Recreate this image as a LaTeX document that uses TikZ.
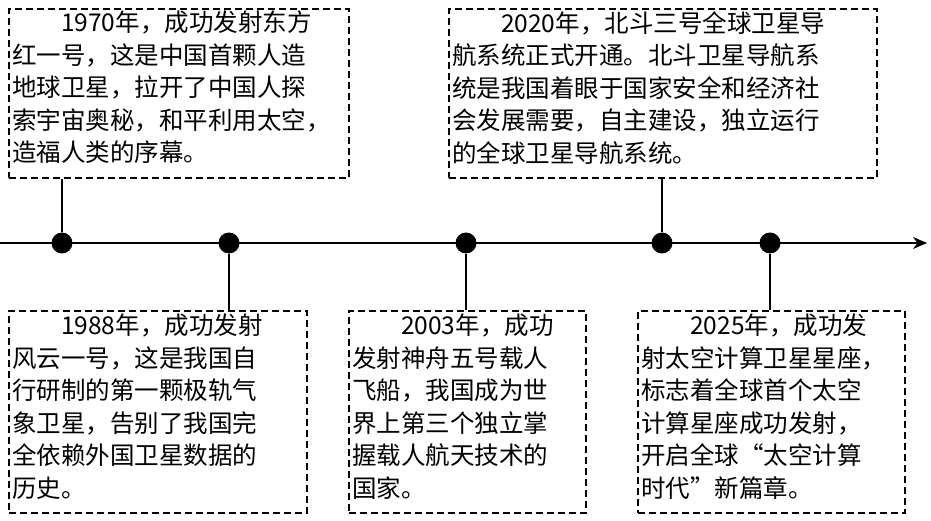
\documentclass[tikz,border=0pt]{standalone}
\usepackage{fontspec}
\setmainfont{Noto Sans CJK SC}
\usetikzlibrary{arrows.meta}
\begin{document}
\begin{tikzpicture}[x=1pt,y=-1pt,
 box/.style={draw,line width=2pt,dash pattern=on 7pt off 4pt,anchor=north west,inner sep=0},
 txt/.style={anchor=north west,align=left,inner sep=0,font=\fontsize{24.5}{32.5}\selectfont},
 dot/.style={circle,fill=black,minimum size=21pt,inner sep=0},
 link/.style={line width=2pt}]
\useasboundingbox (0,0) rectangle (931,521);
\node[box,minimum width=340pt,minimum height=169pt] (b1) at (8,8) {};
\node[box,minimum width=428pt,minimum height=169pt] (b2) at (448,8) {};
\node[box,minimum width=298pt,minimum height=202pt] (b3) at (8,310) {};
\node[box,minimum width=237pt,minimum height=202pt] (b4) at (348,310) {};
\node[box,minimum width=267pt,minimum height=202pt] (b5) at (637,310) {};
\node[txt] (t1) at (12,11) {\hspace{2em}1970年，成功发射东方\\红一号，这是中国首颗人造\\地球卫星，拉开了中国人探\\索宇宙奥秘，和平利用太空，\\造福人类的序幕。};
\node[txt] (t2) at (452,11) {\hspace{2em}2020年，北斗三号全球卫星导\\航系统正式开通。北斗卫星导航系\\统是我国着眼于国家安全和经济社\\会发展需要，自主建设，独立运行\\的全球卫星导航系统。};
\node[txt] (t3) at (12,314) {\hspace{2em}1988年，成功发射\\风云一号，这是我国自\\行研制的第一颗极轨气\\象卫星，告别了我国完\\全依赖外国卫星数据的\\历史。};
\node[txt] (t4) at (352,314) {\hspace{2em}2003年，成功\\发射神舟五号载人\\飞船，我国成为世\\界上第三个独立掌\\握载人航天技术的\\国家。};
\node[txt] (t5) at (641,314) {\hspace{2em}2025年，成功发\\射太空计算卫星星座，\\标志着全球首个太空\\计算星座成功发射，\\开启全球“太空计算\\时代”新篇章。};
\coordinate (s) at (0,243); \coordinate (e) at (927,243);
\draw[link,-{Stealth[length=14pt,width=12pt]}] (s) -- (e);
\node[dot] (d1) at (62,243) {};
\node[dot] (d2) at (229,243) {};
\node[dot] (d3) at (466,243) {};
\node[dot] (d4) at (662,243) {};
\node[dot] (d5) at (770,243) {};
\draw[link] (d1) -- (d1 |- b1.south);
\draw[link] (d4) -- (d4 |- b2.south);
\draw[link] (d2) -- (d2 |- b3.north);
\draw[link] (d3) -- (d3 |- b4.north);
\draw[link] (d5) -- (d5 |- b5.north);
\end{tikzpicture}
\end{document}
